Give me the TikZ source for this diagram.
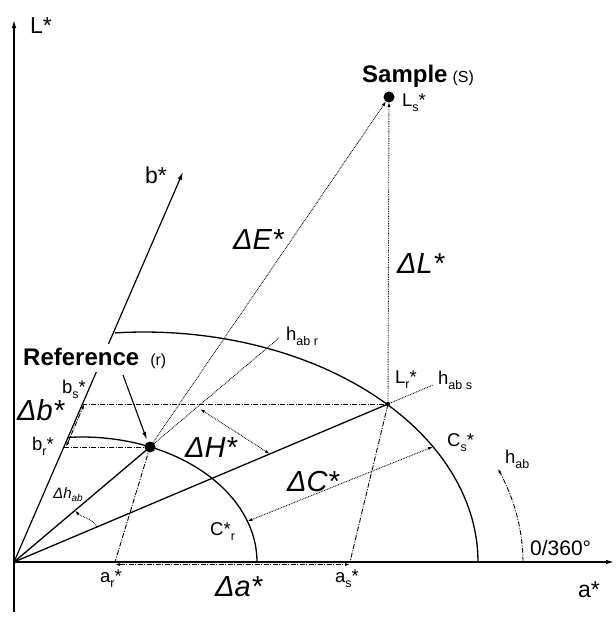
\documentclass[tikz,border=0pt]{standalone}
\usepackage{fontspec}
\setmainfont{Liberation Sans}
\usetikzlibrary{arrows.meta,calc}
\newcommand{\fsz}[1]{\fontsize{#1}{#1}\selectfont}
\newcommand{\sbs}[1]{\raisebox{-0.28em}{\fsz{12.5}#1}}
\begin{document}
\begin{tikzpicture}[x=1pt,y=-1pt,
  axis/.style={line width=1.2pt},
  solidln/.style={line width=1.3pt},
  dotln/.style={line width=0.9pt, dash pattern=on 0.8pt off 0.9pt},
  dashdot/.style={line width=0.9pt, dash pattern=on 5pt off 1.5pt on 1pt off 1.5pt},
  bigtip/.style={-{Latex[length=8pt,width=4.5pt]}},
  stip/.style={-{Latex[length=5pt,width=3pt]}},
  dtip/.style={{Latex[length=5pt,width=3pt]}-{Latex[length=5pt,width=3pt]}},
  lbl/.style={anchor=base west, inner sep=0pt, font=\fsz{18.5}},
  dlbl/.style={anchor=base west, inner sep=0pt, font=\fsz{29}\itshape},
  axlbl/.style={anchor=base west, inner sep=0pt, font=\fsz{23}},
]
\useasboundingbox (0,0) rectangle (616,622);
\fill[white] (0,0) rectangle (616,622);

% key points
\coordinate (O) at (14,562);
\coordinate (Ltip) at (14,20);
\coordinate (Lbot) at (14,612);
\coordinate (atip) at (614,562);
\coordinate (btip) at (183,172);
\coordinate (R) at (150,447);
\coordinate (S) at (389,97);
\coordinate (Lr) at (388,404);
\coordinate (bs) at (82.3,404);
\coordinate (br) at (64,447);
\coordinate (ar) at (115,562);
\coordinate (as) at (350,562);
\coordinate (hrE) at (279,338);
\coordinate (hsE) at (433,385);
\coordinate (H1) at (200,409);
\coordinate (H2) at (270,454);
\coordinate (Cs) at (433,446.7);
\coordinate (Cr) at (247.5,521.3);
\coordinate (dh1) at (96.9,526.9);
\coordinate (dh2) at (75.1,510.3);
\coordinate (refA) at (123,375);
\coordinate (refB) at (147,440);
\coordinate (db1) at (66,447);
\coordinate (db2) at (84.3,404);
\coordinate (da1) at (115,564.5);
\coordinate (da2) at (350,564.5);

% axes
\draw[axis,bigtip] (Lbot) -- (Ltip);
\draw[axis,bigtip] (O) -- (atip);
\draw[axis,bigtip] (O) -- (btip);

% chroma lines
\draw[solidln] (O) -- (R);
\draw[solidln] (O) -- (Lr);

% chroma arcs
\draw[solidln] plot[domain=95:0, samples=70] ({144+334*cos(\x)},{562-230*sin(\x)});
\draw[solidln] plot[domain=94.6:0, samples=60] ({82+175*cos(\x)},{562-125*sin(\x)});

% hue arrow arc
\draw[dashdot,stip] plot[domain=0:21, samples=20] ({144+379*cos(\x)},{562-261*sin(\x)});

% dotted lines
\draw[dotln,stip,shorten >=5pt] (R) -- (S);
\draw[dotln,stip,shorten >=5pt] (Lr) -- (S);
\draw[dotln] (R) -- (hrE);
\draw[dotln] (Lr) -- (hsE);
\draw[dotln,dtip] (H1) -- (H2);
\draw[dotln,dtip] (Cs) -- (Cr);
\draw[dotln,stip] (dh1) .. controls (93.5,518.9) and (80.2,516.4) .. (dh2);

% dash-dot projections
\draw[dashdot] (bs) -- (Lr);
\draw[dashdot] (br) -- (R);
\draw[dashdot] (R) -- (ar);
\draw[dashdot] (Lr) -- (as);
\draw[dashdot,dtip] (db1) -- (db2);
\draw[dashdot,dtip] (da1) -- (da2);

% reference arrow
\draw[line width=1.1pt,-{Latex[length=8pt,width=4pt]}] (refA) -- (refB);

% points
\fill (R) circle[radius=5.5pt];
\fill (S) circle[radius=5.5pt];
\fill (Lr) circle[radius=2.2pt];

% labels
\node[axlbl] (tL) at (30,33) {L*};
\node[axlbl] (tb) at (145,183) {b*};
\node[axlbl] (ta) at (578,597) {a*};
\node[anchor=base west, inner sep=0pt, font=\fsz{21}] (t360) at (530,555) {0/360°};
\node[lbl] (thab) at (505,463) {h\sbs{ab}};
\node[lbl] (tCs) at (447,446) {C\sbs{s}*};
\node[lbl] (ths) at (438,384) {h\sbs{ab s}};
\node[lbl] (tLr) at (395,383) {L\sbs{r}*};
\node[lbl] (thr) at (286,340) {h\sbs{ab r}};
\node[dlbl] (tdE) at (233,249) {ΔE*};
\node[dlbl] (tdL) at (397,273) {ΔL*};
\node[dlbl] (tdH) at (185,457) {ΔH*};
\node[dlbl] (tdC) at (287,491) {ΔC*};
\node[dlbl] (tda) at (215,596) {Δa*};
\node[dlbl] (tdb) at (17,420) {Δb*};
\node[anchor=base west, inner sep=0pt, font=\fsz{15}\itshape] (tdh) at (53,498) {Δh\raisebox{-0.25em}{\fsz{10}ab}};
\node[lbl] (tbs) at (62,393) {b\sbs{s}*};
\node[lbl] (tbr) at (32,450) {b\sbs{r}*};
\node[lbl] (tar) at (100,582) {a\sbs{r}*};
\node[lbl] (tas) at (335,582) {a\sbs{s}*};
\node[lbl] (tCr) at (210,535) {C*\sbs{r}};
\node[lbl] (tLs) at (402,106) {L\sbs{s}*};
\node[anchor=base west, fill=white, inner xsep=2pt, inner ysep=4pt] (tref) at (21,365)
  {{\fsz{24}\bfseries Reference}\hspace{11pt}{\fsz{16}(r)}};
\node[anchor=base west, inner sep=0pt] (tsam) at (362,82)
  {{\fsz{24}\bfseries Sample}\hspace{5pt}{\fsz{16}(S)}};
\end{tikzpicture}
\end{document}
